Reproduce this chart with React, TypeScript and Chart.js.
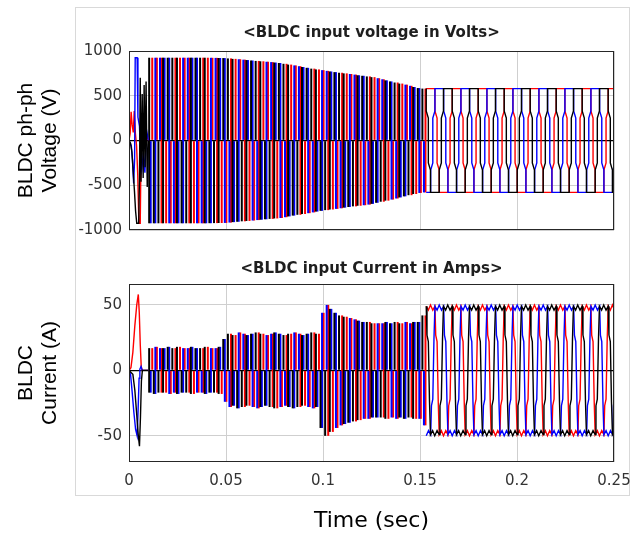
import { useEffect, useRef } from 'react';
import { Chart, registerables } from 'chart.js';

Chart.register(...registerables);

const FONT_H = "'DejaVu Sans', Verdana, sans-serif";
const FONT_V = "'Liberation Sans', Arial, Helvetica, sans-serif";
const RED = '#ff0000';
const BLUE = '#0000ff';
const BLACK = '#000000';

// ---- axes ----
const xTicks = [0, 50, 100, 150, 200, 250]; // ms
const xTickLabels = ['0', '0.05', '0.1', '0.15', '0.2', '0.25'];
const voltTicks = [-1000, -500, 0, 500, 1000];
const currTicks = [-50, 0, 50];

// ---- PWM interval centres (ms), 10 ms .. 153.2 ms ----
const sectorTimes = [11.19, 13.58, 15.97, 18.35, 20.74, 23.13, 25.51, 27.9, 30.29, 32.68, 35.06, 37.45, 39.84, 42.22, 44.61, 47, 49.39, 51.77, 54.16, 56.55, 58.93, 61.32, 63.71, 66.09, 68.48, 70.87, 73.26, 75.64, 78.03, 80.42, 82.8, 85.19, 87.58, 89.96, 92.35, 94.74, 97.13, 99.51, 101.9, 104.29, 106.67, 109.06, 111.45, 113.83, 116.22, 118.61, 120.99, 123.38, 125.77, 128.16, 130.54, 132.93, 135.32, 137.7, 140.09, 142.48, 144.86, 147.25, 149.64, 152.03];

// ---- voltage: switching band [low, high] per interval (V) ----
const voltRedPWM = [[0,925],[0,925],[-925,925],[-925,0],[-925,0],[-925,925],[0,925],[0,925],[-925,925],[-925,0],[-925,0],[-925,925],[0,925],[0,924],[-923,923],[-922,0],[-921,0],[-917,917],[0,912],[0,908],[-903,903],[-899,0],[-894,0],[-889,889],[0,885],[0,880],[-876,876],[-871,0],[-866,0],[-857,857],[0,848],[0,839],[-830,830],[-821,0],[-812,0],[-803,803],[0,794],[0,786],[-778,778],[-771,0],[-764,0],[-757,757],[0,750],[0,743],[-736,736],[-729,0],[-723,0],[-716,716],[0,708],[0,696],[-684,684],[-672,0],[-660,0],[-648,648],[0,636],[0,624],[-611,611],[-598,0],[-586,0],[-580,580]];
const voltBluePWM = [[-925,0],[-925,925],[0,925],[0,925],[-925,925],[-925,0],[-925,0],[-925,925],[0,925],[0,925],[-925,925],[-925,0],[-925,0],[-924,924],[0,923],[0,922],[-921,921],[-917,0],[-912,0],[-908,908],[0,903],[0,899],[-894,894],[-889,0],[-885,0],[-880,880],[0,876],[0,871],[-866,866],[-857,0],[-848,0],[-839,839],[0,830],[0,821],[-812,812],[-803,0],[-794,0],[-786,786],[0,778],[0,771],[-764,764],[-757,0],[-750,0],[-743,743],[0,736],[0,729],[-723,723],[-716,0],[-708,0],[-696,696],[0,684],[0,672],[-660,660],[-648,0],[-636,0],[-624,624],[0,611],[0,598],[-586,586],[-580,0]];
const voltBlackPWM = [[-925,925],[-925,0],[-925,0],[-925,925],[0,925],[0,925],[-925,925],[-925,0],[-925,0],[-925,925],[0,925],[0,925],[-925,925],[-924,0],[-923,0],[-922,922],[0,921],[0,917],[-912,912],[-908,0],[-903,0],[-899,899],[0,894],[0,889],[-885,885],[-880,0],[-876,0],[-871,871],[0,866],[0,857],[-848,848],[-839,0],[-830,0],[-821,821],[0,812],[0,803],[-794,794],[-786,0],[-778,0],[-771,771],[0,764],[0,757],[-750,750],[-743,0],[-736,0],[-729,729],[0,723],[0,716],[-708,708],[-696,0],[-684,0],[-672,672],[0,660],[0,648],[-636,636],[-624,0],[-611,0],[-598,598],[0,586],[0,580]];

// ---- current: switching band [low, high] per interval (A) ----
const currRedPWM = [[0,17],[0,18],[-17,17],[-17,0],[-18,0],[-17,17],[0,18],[0,17],[-17,17],[-18,0],[-17,0],[-17,17],[0,18],[0,17],[-17,17],[-18,0],[-24,0],[-28,28],[0,27],[0,29],[-28,28],[-27,0],[-28,0],[-29,29],[0,28],[0,27],[-28,28],[-29,0],[-28,0],[-27,27],[0,28],[0,29],[-28,28],[-27,0],[-28,0],[-29,29],[0,28],[0,44],[-50,50],[-47,0],[-44,0],[-42,42],[0,41],[0,40],[-39,39],[-38,0],[-37,0],[-37,37],[0,36],[0,36],[-36,36],[-37,0],[-36,0],[-37,37],[0,36],[0,37],[-36,36],[-37,0],[-37,0],[-42,42]];
const currBluePWM = [[-17,0],[-18,18],[0,17],[0,17],[-18,18],[-17,0],[-18,0],[-17,17],[0,17],[0,18],[-17,17],[-17,0],[-18,0],[-17,17],[0,17],[0,18],[-24,24],[-28,0],[-27,0],[-29,29],[0,28],[0,27],[-28,28],[-29,0],[-28,0],[-27,27],[0,28],[0,29],[-28,28],[-27,0],[-28,0],[-29,29],[0,28],[0,27],[-28,28],[-29,0],[-28,0],[-44,44],[0,50],[0,47],[-44,44],[-42,0],[-41,0],[-40,40],[0,39],[0,38],[-37,37],[-37,0],[-36,0],[-36,36],[0,36],[0,37],[-36,36],[-37,0],[-36,0],[-37,37],[0,36],[0,37],[-37,37],[-42,0]];
const currBlackPWM = [[-17,17],[-18,0],[-17,0],[-17,17],[0,18],[0,17],[-18,18],[-17,0],[-17,0],[-18,18],[0,17],[0,17],[-18,18],[-17,0],[-17,0],[-18,18],[0,24],[0,28],[-27,27],[-29,0],[-28,0],[-27,27],[0,28],[0,29],[-28,28],[-27,0],[-28,0],[-29,29],[0,28],[0,27],[-28,28],[-29,0],[-28,0],[-27,27],[0,28],[0,29],[-28,28],[-44,0],[-50,0],[-47,47],[0,44],[0,42],[-41,41],[-40,0],[-39,0],[-38,38],[0,37],[0,37],[-36,36],[-36,0],[-36,0],[-37,37],[0,36],[0,37],[-36,36],[-37,0],[-36,0],[-37,37],[0,37],[0,42]];

// ---- start-up traces (ms, value pairs) ----
const voltRedStart = [0,0, 0.6,80, 1.1,320, 1.6,180, 2.2,90, 2.7,330, 3.3,80, 3.9,-60, 4.5,-380, 5.1,-925, 5.8,-925, 6.2,-120, 6.8,40, 7.6,120, 8.4,-80, 9.2,60, 10,0];
const voltBlueStart = [0,0, 1.2,-60, 1.8,-220, 2.4,-480, 2.9,-200, 3.2,925, 4.2,925, 4.6,260, 5.4,160, 6,-220, 6.6,-320, 7.4,-140, 8.2,-360, 9,120, 10,0];
const voltBlackStart = [0,0, 0.8,-30, 1.5,-130, 2.2,-360, 2.8,-560, 3.4,-790, 4,-925, 5,-925, 5.4,-420, 5.8,700, 6.2,-460, 6.8,520, 7.3,-420, 7.8,620, 8.3,-300, 8.8,660, 9.4,-520, 10,0];
const currRedStart = [0,0, 1,2, 2,14, 3,34, 4,50, 4.8,58, 5.3,44, 5.8,20, 6.3,3, 6.8,0, 10,0];
const currBlueStart = [0,0, 0.8,-3, 1.6,-16, 2.5,-32, 3.4,-45, 4.2,-50, 4.7,-30, 5.2,-6, 5.6,1, 6.2,3, 6.8,0, 10,0];
const currBlackStart = [0,0, 2,-3, 3,-15, 4,-34, 4.8,-50, 5.4,-58, 5.9,-36, 6.4,-8, 6.9,0, 10,0];

// ---- steady-state traces (ms, value pairs) ----
const voltRedSteady = [153.2,580, 157.7,580, 157.7,330, 158.8,250, 158.8,-250, 159.9,-330, 159.9,-580, 164.4,-580, 164.4,-330, 165.5,-250, 165.5,250, 166.6,330,
166.6,580, 171.1,580, 171.1,330, 172.2,250, 172.2,-250, 173.3,-330, 173.3,-580, 177.8,-580, 177.8,-330, 178.9,-250, 178.9,250, 180,330,
180,580, 184.5,580, 184.5,330, 185.6,250, 185.6,-250, 186.7,-330, 186.7,-580, 191.2,-580, 191.2,-330, 192.3,-250, 192.3,250, 193.4,330,
193.4,580, 197.9,580, 197.9,330, 199,250, 199,-250, 200.1,-330, 200.1,-580, 204.6,-580, 204.6,-330, 205.7,-250, 205.7,250, 206.8,330,
206.8,580, 211.3,580, 211.3,330, 212.4,250, 212.4,-250, 213.5,-330, 213.5,-580, 218,-580, 218,-330, 219.1,-250, 219.1,250, 220.2,330,
220.2,580, 224.7,580, 224.7,330, 225.8,250, 225.8,-250, 226.9,-330, 226.9,-580, 231.4,-580, 231.4,-330, 232.5,-250, 232.5,250, 233.6,330,
233.6,580, 238.1,580, 238.1,330, 239.2,250, 239.2,-250, 240.3,-330, 240.3,-580, 244.8,-580, 244.8,-330, 245.9,-250, 245.9,250, 247,330,
247,580, 250,580];
const voltBlueSteady = [153.2,-580, 155.5,-580, 155.5,-330, 156.6,-250, 156.6,250, 157.7,330,
157.7,580, 162.2,580, 162.2,330, 163.3,250, 163.3,-250, 164.4,-330, 164.4,-580, 168.9,-580, 168.9,-330, 170,-250, 170,250, 171.1,330,
171.1,580, 175.6,580, 175.6,330, 176.7,250, 176.7,-250, 177.8,-330, 177.8,-580, 182.3,-580, 182.3,-330, 183.4,-250, 183.4,250, 184.5,330,
184.5,580, 189,580, 189,330, 190.1,250, 190.1,-250, 191.2,-330, 191.2,-580, 195.7,-580, 195.7,-330, 196.8,-250, 196.8,250, 197.9,330,
197.9,580, 202.4,580, 202.4,330, 203.5,250, 203.5,-250, 204.6,-330, 204.6,-580, 209.1,-580, 209.1,-330, 210.2,-250, 210.2,250, 211.3,330,
211.3,580, 215.8,580, 215.8,330, 216.9,250, 216.9,-250, 218,-330, 218,-580, 222.5,-580, 222.5,-330, 223.6,-250, 223.6,250, 224.7,330,
224.7,580, 229.2,580, 229.2,330, 230.3,250, 230.3,-250, 231.4,-330, 231.4,-580, 235.9,-580, 235.9,-330, 237,-250, 237,250, 238.1,330,
238.1,580, 242.6,580, 242.6,330, 243.7,250, 243.7,-250, 244.8,-330, 244.8,-580, 249.3,-580, 249.3,-330, 250,-300];
const voltBlackSteady = [153.2,580, 153.2,330, 154.3,250, 154.3,-250, 155.4,-330, 155.4,-580, 159.9,-580, 159.9,-330, 161,-250, 161,250, 162.1,330,
162.1,580, 166.6,580, 166.6,330, 167.7,250, 167.7,-250, 168.8,-330, 168.8,-580, 173.3,-580, 173.3,-330, 174.4,-250, 174.4,250, 175.5,330,
175.5,580, 180,580, 180,330, 181.1,250, 181.1,-250, 182.2,-330, 182.2,-580, 186.7,-580, 186.7,-330, 187.8,-250, 187.8,250, 188.9,330,
188.9,580, 193.4,580, 193.4,330, 194.5,250, 194.5,-250, 195.6,-330, 195.6,-580, 200.1,-580, 200.1,-330, 201.2,-250, 201.2,250, 202.3,330,
202.3,580, 206.8,580, 206.8,330, 207.9,250, 207.9,-250, 209,-330, 209,-580, 213.5,-580, 213.5,-330, 214.6,-250, 214.6,250, 215.7,330,
215.7,580, 220.2,580, 220.2,330, 221.3,250, 221.3,-250, 222.4,-330, 222.4,-580, 226.9,-580, 226.9,-330, 228,-250, 228,250, 229.1,330,
229.1,580, 233.6,580, 233.6,330, 234.7,250, 234.7,-250, 235.8,-330, 235.8,-580, 240.3,-580, 240.3,-330, 241.4,-250, 241.4,250, 242.5,330,
242.5,580, 247,580, 247,330, 248.1,250, 248.1,-250, 249.2,-330, 249.2,-580, 250,-580];

const currRedSteady = [153.2,49, 154.3,46, 155.4,50, 156.6,46, 157.7,49, 158.1,27, 158.8,22, 159.4,-24, 159.9,-49, 161,-46, 162.1,-50, 163.3,-46, 164.4,-49, 164.8,-27, 165.5,-22, 166.1,24,
166.6,49, 167.7,46, 168.8,50, 170,46, 171.1,49, 171.5,27, 172.2,22, 172.8,-24, 173.3,-49, 174.4,-46, 175.5,-50, 176.7,-46, 177.8,-49, 178.2,-27, 178.9,-22, 179.5,24,
180,49, 181.1,46, 182.2,50, 183.4,46, 184.5,49, 184.9,27, 185.6,22, 186.2,-24, 186.7,-49, 187.8,-46, 188.9,-50, 190.1,-46, 191.2,-49, 191.6,-27, 192.3,-22, 192.9,24,
193.4,49, 194.5,46, 195.6,50, 196.8,46, 197.9,49, 198.3,27, 199,22, 199.6,-24, 200.1,-49, 201.2,-46, 202.3,-50, 203.5,-46, 204.6,-49, 205,-27, 205.7,-22, 206.3,24,
206.8,49, 207.9,46, 209,50, 210.2,46, 211.3,49, 211.7,27, 212.4,22, 213,-24, 213.5,-49, 214.6,-46, 215.7,-50, 216.9,-46, 218,-49, 218.4,-27, 219.1,-22, 219.7,24,
220.2,49, 221.3,46, 222.4,50, 223.6,46, 224.7,49, 225.1,27, 225.8,22, 226.4,-24, 226.9,-49, 228,-46, 229.1,-50, 230.3,-46, 231.4,-49, 231.8,-27, 232.5,-22, 233.1,24,
233.6,49, 234.7,46, 235.8,50, 237,46, 238.1,49, 238.5,27, 239.2,22, 239.8,-24, 240.3,-49, 241.4,-46, 242.5,-50, 243.7,-46, 244.8,-49, 245.2,-27, 245.9,-22, 246.5,24,
247,49, 248.1,46, 249.2,50, 250,47];
const currBlueSteady = [153.2,-50, 154.4,-46, 155.5,-49, 155.9,-27, 156.6,-22, 157.2,24,
157.7,49, 158.8,46, 159.9,50, 161.1,46, 162.2,49, 162.6,27, 163.3,22, 163.9,-24, 164.4,-49, 165.5,-46, 166.6,-50, 167.8,-46, 168.9,-49, 169.3,-27, 170,-22, 170.6,24,
171.1,49, 172.2,46, 173.3,50, 174.5,46, 175.6,49, 176,27, 176.7,22, 177.3,-24, 177.8,-49, 178.9,-46, 180,-50, 181.2,-46, 182.3,-49, 182.7,-27, 183.4,-22, 184,24,
184.5,49, 185.6,46, 186.7,50, 187.9,46, 189,49, 189.4,27, 190.1,22, 190.7,-24, 191.2,-49, 192.3,-46, 193.4,-50, 194.6,-46, 195.7,-49, 196.1,-27, 196.8,-22, 197.4,24,
197.9,49, 199,46, 200.1,50, 201.3,46, 202.4,49, 202.8,27, 203.5,22, 204.1,-24, 204.6,-49, 205.7,-46, 206.8,-50, 208,-46, 209.1,-49, 209.5,-27, 210.2,-22, 210.8,24,
211.3,49, 212.4,46, 213.5,50, 214.7,46, 215.8,49, 216.2,27, 216.9,22, 217.5,-24, 218,-49, 219.1,-46, 220.2,-50, 221.4,-46, 222.5,-49, 222.9,-27, 223.6,-22, 224.2,24,
224.7,49, 225.8,46, 226.9,50, 228.1,46, 229.2,49, 229.6,27, 230.3,22, 230.9,-24, 231.4,-49, 232.5,-46, 233.6,-50, 234.8,-46, 235.9,-49, 236.3,-27, 237,-22, 237.6,24,
238.1,49, 239.2,46, 240.3,50, 241.5,46, 242.6,49, 243,27, 243.7,22, 244.3,-24, 244.8,-49, 245.9,-46, 247,-50, 248.2,-46, 249.3,-49, 249.7,-27, 250,-24];
const currBlackSteady = [153.2,49, 153.6,27, 154.3,22, 154.9,-24, 155.4,-49, 156.5,-46, 157.6,-50, 158.8,-46, 159.9,-49, 160.3,-27, 161,-22, 161.6,24,
162.1,49, 163.2,46, 164.3,50, 165.5,46, 166.6,49, 167,27, 167.7,22, 168.3,-24, 168.8,-49, 169.9,-46, 171,-50, 172.2,-46, 173.3,-49, 173.7,-27, 174.4,-22, 175,24,
175.5,49, 176.6,46, 177.7,50, 178.9,46, 180,49, 180.4,27, 181.1,22, 181.7,-24, 182.2,-49, 183.3,-46, 184.4,-50, 185.6,-46, 186.7,-49, 187.1,-27, 187.8,-22, 188.4,24,
188.9,49, 190,46, 191.1,50, 192.3,46, 193.4,49, 193.8,27, 194.5,22, 195.1,-24, 195.6,-49, 196.7,-46, 197.8,-50, 199,-46, 200.1,-49, 200.5,-27, 201.2,-22, 201.8,24,
202.3,49, 203.4,46, 204.5,50, 205.7,46, 206.8,49, 207.2,27, 207.9,22, 208.5,-24, 209,-49, 210.1,-46, 211.2,-50, 212.4,-46, 213.5,-49, 213.9,-27, 214.6,-22, 215.2,24,
215.7,49, 216.8,46, 217.9,50, 219.1,46, 220.2,49, 220.6,27, 221.3,22, 221.9,-24, 222.4,-49, 223.5,-46, 224.6,-50, 225.8,-46, 226.9,-49, 227.3,-27, 228,-22, 228.6,24,
229.1,49, 230.2,46, 231.3,50, 232.5,46, 233.6,49, 234,27, 234.7,22, 235.3,-24, 235.8,-49, 236.9,-46, 238,-50, 239.2,-46, 240.3,-49, 240.7,-27, 241.4,-22, 242,24,
242.5,49, 243.6,46, 244.7,50, 245.9,46, 247,49, 247.4,27, 248.1,22, 248.7,-24, 249.2,-49, 250,-47];

// ---- helpers ----
const toPoints = (flat: number[]) => {
  const out: { x: number; y: number }[] = [];
  for (let i = 0; i < flat.length; i += 2) out.push({ x: flat[i], y: flat[i + 1] });
  return out;
};
const lineDs = (flat: number[], color: string, order: number) => ({
  type: 'line' as const,
  data: toPoints(flat),
  borderColor: color,
  backgroundColor: color,
  borderWidth: 1.4,
  pointRadius: 0,
  tension: 0,
  fill: false,
  order,
});
const barDs = (pairs: number[][], color: string, order: number) => ({
  type: 'bar' as const,
  data: sectorTimes.map((t, i) => ({ x: t, y: pairs[i] })),
  backgroundColor: color,
  borderWidth: 0,
  barPercentage: 1.3,
  categoryPercentage: 1,
  order,
});

const framePlugin = {
  id: 'frame',
  afterDatasetsDraw(chart: any) {
    const { ctx, chartArea: a } = chart;
    ctx.save();
    ctx.strokeStyle = '#262626';
    ctx.lineWidth = 1;
    ctx.strokeRect(Math.round(a.left) + 0.5, Math.round(a.top) + 0.5, Math.round(a.right - a.left) - 1, Math.round(a.bottom - a.top) - 1);
    ctx.restore();
  },
};

const yGridColor = (c: any) => (c.tick && c.tick.value === 0 ? '#000000' : '#cfcfcf');
const yGridWidth = (c: any) => (c.tick && c.tick.value === 0 ? 1.3 : 1);

function makeConfig(opts: {
  title: string; titlePad: { top: number; bottom: number };
  yMin: number; yMax: number; yTicks: number[]; yTitle: string[];
  datasets: any[]; showX: boolean; xHeight: number; padBottom: number;
}): any {
  return {
    type: 'line',
    data: { datasets: opts.datasets },
    plugins: [framePlugin],
    options: {
      responsive: false,
      animation: false,
      devicePixelRatio: 1,
      events: [],
      layout: { padding: { left: 0, right: 18, top: 0, bottom: opts.padBottom } },
      plugins: {
        legend: { display: false },
        tooltip: { enabled: false },
        title: {
          display: true,
          text: opts.title,
          fullSize: false,
          color: '#1e1e1e',
          font: { family: FONT_H, size: 15, weight: 'bold', lineHeight: 1.2 },
          padding: opts.titlePad,
        },
      },
      scales: {
        x: {
          type: 'linear',
          min: 0,
          max: 250,
          offset: false,
          afterBuildTicks: (s: any) => { s.ticks = xTicks.map((v) => ({ value: v })); },
          afterFit: (s: any) => { s.height = opts.xHeight; s.paddingLeft = 0; s.paddingRight = 0; },
          grid: { color: '#cfcfcf', lineWidth: 1, drawTicks: false, offset: false },
          border: { display: false },
          ticks: {
            display: opts.showX,
            padding: 10,
            color: '#333333',
            font: { family: FONT_H, size: 15 },
            maxRotation: 0,
            callback: (_v: any, i: number) => xTickLabels[i],
          },
          title: {
            display: opts.showX,
            text: 'Time (sec)',
            color: '#000000',
            font: { family: FONT_H, size: 22, lineHeight: 1.1 },
            padding: { top: 0, bottom: 7 },
          },
        },
        y: {
          type: 'linear',
          min: opts.yMin,
          max: opts.yMax,
          afterBuildTicks: (s: any) => { s.ticks = opts.yTicks.map((v) => ({ value: v })); },
          afterFit: (s: any) => { s.width = 129; s.paddingTop = 0; s.paddingBottom = 0; },
          grid: { color: yGridColor, lineWidth: yGridWidth, drawTicks: false },
          border: { display: false },
          ticks: {
            padding: 7,
            color: '#333333',
            font: { family: FONT_H, size: 15 },
            callback: (v: any) => String(v),
          },
          title: {
            display: true,
            text: opts.yTitle,
            color: '#000000',
            font: { family: FONT_V, size: 21, lineHeight: 1.15 },
            padding: { top: 14, bottom: 0 },
          },
        },
      },
    },
  };
}

export default function App() {
  const vRef = useRef<HTMLCanvasElement>(null);
  const cRef = useRef<HTMLCanvasElement>(null);

  useEffect(() => {
    const voltChart = new Chart(vRef.current as HTMLCanvasElement, makeConfig({
      title: '<BLDC input voltage in Volts>',
      titlePad: { top: 24, bottom: 9 },
      yMin: -1000, yMax: 1000, yTicks: voltTicks, yTitle: ['BLDC ph-ph', 'Voltage (V)'],
      showX: false, xHeight: 0, padBottom: 10,
      datasets: [
        lineDs(voltBlackSteady, BLACK, 0),
        lineDs(voltBlueSteady, BLUE, 1),
        lineDs(voltRedSteady, RED, 2),
        lineDs(voltBlackStart, BLACK, 3),
        lineDs(voltBlueStart, BLUE, 4),
        lineDs(voltRedStart, RED, 5),
        barDs(voltRedPWM, RED, 8),
        barDs(voltBluePWM, BLUE, 7),
        barDs(voltBlackPWM, BLACK, 6),
      ],
    }));
    const currChart = new Chart(cRef.current as HTMLCanvasElement, makeConfig({
      title: '<BLDC input Current in Amps>',
      titlePad: { top: 20, bottom: 6 },
      yMin: -70, yMax: 66, yTicks: currTicks, yTitle: ['BLDC', 'Current (A)'],
      showX: true, xHeight: 78, padBottom: 0,
      datasets: [
        lineDs(currBlackSteady, BLACK, 0),
        lineDs(currBlueSteady, BLUE, 1),
        lineDs(currRedSteady, RED, 2),
        lineDs(currBlackStart, BLACK, 3),
        lineDs(currBlueStart, BLUE, 4),
        lineDs(currRedStart, RED, 5),
        barDs(currRedPWM, RED, 8),
        barDs(currBluePWM, BLUE, 7),
        barDs(currBlackPWM, BLACK, 6),
      ],
    }));
    return () => {
      voltChart.destroy();
      currChart.destroy();
    };
  }, []);

  return (
    <div style={{ position: 'absolute', left: 0, top: 0, width: 632, height: 540, background: '#ffffff', overflow: 'hidden' }}>
      <div style={{ position: 'absolute', left: 75, top: 7, width: 555, height: 489, border: '1px solid #d9d9d9', boxSizing: 'border-box' }} />
      <canvas ref={vRef} width={632} height={240} style={{ position: 'absolute', left: 0, top: 0 }} />
      <canvas ref={cRef} width={632} height={300} style={{ position: 'absolute', left: 0, top: 240 }} />
    </div>
  );
}
